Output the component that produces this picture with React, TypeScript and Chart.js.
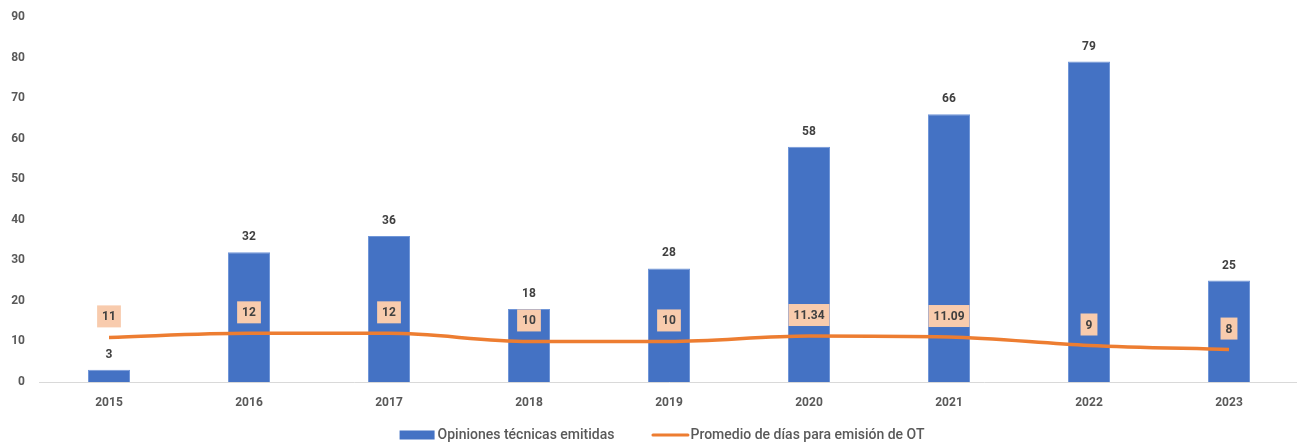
import React, { useEffect, useRef } from "react";
import { Chart, registerables } from "chart.js";

Chart.register(...registerables);

const years = ["2015", "2016", "2017", "2018", "2019", "2020", "2021", "2022", "2023"];
const opiniones = [3, 32, 36, 18, 28, 58, 66, 79, 25];
const promedioDias = [11, 12, 12, 10, 10, 11.34, 11.09, 9, 8];
const yTicksMax = 90;
const yTickStep = 10;

const seriesBarName = "Opiniones técnicas emitidas";
const seriesLineName = "Promedio de días para emisión de OT";

const FONT = "Roboto, 'Liberation Sans', Arial, sans-serif";
const BAR_COLOR = "#4472C4";
const LINE_COLOR = "#ED7D31";

const labelsPlugin = {
  id: "valueLabels",
  afterDatasetsDraw(chart: any) {
    const ctx = chart.ctx;
    ctx.save();
    ctx.font = `bold 12px ${FONT}`;
    ctx.textAlign = "center";
    ctx.textBaseline = "middle";
    const barMeta = chart.getDatasetMeta(0);
    barMeta.data.forEach((el: any, i: number) => {
      ctx.fillStyle = "#404040";
      ctx.fillText(String(opiniones[i]), el.x, el.y - 15);
    });
    const lineMeta = chart.getDatasetMeta(1);
    lineMeta.data.forEach((el: any, i: number) => {
      const txt = String(promedioDias[i]);
      const w = ctx.measureText(txt).width + 10;
      const h = 22;
      const cy = el.y - 21;
      ctx.fillStyle = "#F8CBAD";
      ctx.fillRect(el.x - w / 2, cy - h / 2, w, h);
      ctx.fillStyle = "#404040";
      ctx.fillText(txt, el.x, cy + 1);
    });
    ctx.restore();
  },
  afterDraw(chart: any) {
    const ctx = chart.ctx;
    const area = chart.chartArea;
    ctx.save();
    ctx.font = `500 14px ${FONT}`;
    ctx.textBaseline = "middle";
    ctx.textAlign = "left";
    const barSymW = 35;
    const lineSymW = 38;
    const w1 = ctx.measureText(seriesBarName).width;
    const w2 = ctx.measureText(seriesLineName).width;
    const total = barSymW + 3 + w1 + 37 + lineSymW + 1 + w2;
    let x = (area.left + area.right) / 2 - 7 - total / 2;
    const cy = 435;
    ctx.fillStyle = BAR_COLOR;
    ctx.fillRect(x, cy - 4.5, barSymW, 9);
    x += barSymW + 3;
    ctx.fillStyle = "#595959";
    ctx.fillText(seriesBarName, x, cy);
    x += w1 + 37;
    ctx.strokeStyle = LINE_COLOR;
    ctx.lineWidth = 3;
    ctx.lineCap = "round";
    ctx.beginPath();
    ctx.moveTo(x + 1.5, cy);
    ctx.lineTo(x + lineSymW - 1.5, cy);
    ctx.stroke();
    x += lineSymW + 1;
    ctx.fillStyle = "#595959";
    ctx.fillText(seriesLineName, x, cy);
    ctx.restore();
  },
};

export default function App() {
  const ref = useRef<HTMLCanvasElement>(null);
  useEffect(() => {
    if (!ref.current) return;
    const chart = new Chart(ref.current, {
      type: "bar",
      data: {
        labels: years,
        datasets: [
          {
            type: "bar",
            label: seriesBarName,
            data: opiniones,
            backgroundColor: BAR_COLOR,
            borderColor: "#7096D8",
            borderWidth: 1,
            barPercentage: 0.3,
            categoryPercentage: 1,
            order: 1,
          },
          {
            type: "line",
            label: seriesLineName,
            data: promedioDias,
            borderColor: LINE_COLOR,
            backgroundColor: LINE_COLOR,
            borderWidth: 3.5,
            pointRadius: 0,
            cubicInterpolationMode: "monotone",
            order: 0,
          },
        ],
      },
      options: {
        responsive: false,
        animation: false,
        devicePixelRatio: 1,
        layout: { padding: { top: 17, left: 0, right: 0, bottom: 25 } },
        plugins: {
          tooltip: { enabled: false },
          legend: { display: false },
        },
        scales: {
          x: {
            grid: { display: false, drawTicks: false },
            border: { display: true, color: "#D9D9D9", width: 1 },
            ticks: {
              color: "#595959",
              padding: 14,
              font: { family: FONT, size: 12, weight: "bold" },
            },
            afterFit(scale: any) {
              scale.height = 35;
              scale.paddingLeft = 0;
              scale.paddingRight = 0;
            },
          },
          y: {
            min: 0,
            max: yTicksMax,
            grid: { display: false, drawTicks: false },
            border: { display: false },
            ticks: {
              stepSize: yTickStep,
              color: "#595959",
              padding: 14,
              font: { family: FONT, size: 12, weight: "bold" },
            },
            afterFit(scale: any) {
              scale.width = 39;
              scale.paddingTop = 0;
              scale.paddingBottom = 0;
            },
          },
        },
      },
      plugins: [labelsPlugin],
    } as any);
    return () => chart.destroy();
  }, []);
  return (
    <div
      style={{
        position: "absolute",
        left: 0,
        top: 0,
        width: 1297,
        height: 442,
        overflow: "hidden",
        background: "#ffffff",
      }}
    >
      <canvas ref={ref} width={1299} height={442} />
    </div>
  );
}
